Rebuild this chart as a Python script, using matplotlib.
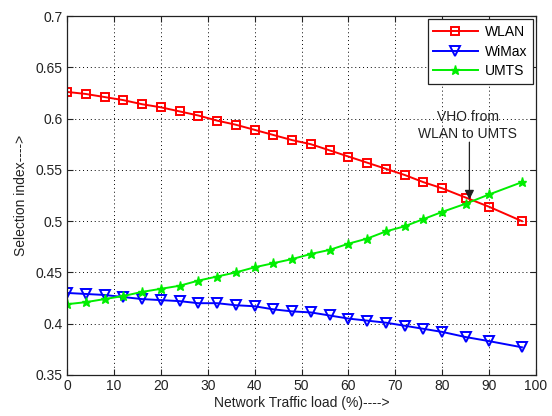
import matplotlib
matplotlib.use("Agg")
import matplotlib.pyplot as plt

plt.rcParams['font.family'] = ['Liberation Sans', 'DejaVu Sans']

# Network traffic load (%) at which each selection index was evaluated
load = [0, 4, 8, 12, 16, 20, 24, 28, 32, 36, 40, 44, 48, 52, 56, 60, 64, 68,
        72, 76, 80, 85, 90, 97]

wlan = [0.626, 0.624, 0.621, 0.618, 0.614, 0.611, 0.607, 0.603, 0.598, 0.594,
        0.589, 0.584, 0.579, 0.575, 0.569, 0.563, 0.557, 0.551, 0.545, 0.538,
        0.532, 0.523, 0.514, 0.500]
wimax = [0.430, 0.429, 0.428, 0.426, 0.424, 0.423, 0.422, 0.420, 0.420, 0.418,
         0.417, 0.414, 0.412, 0.411, 0.408, 0.405, 0.403, 0.401, 0.398, 0.395,
         0.392, 0.387, 0.383, 0.377]
umts = [0.419, 0.421, 0.424, 0.427, 0.431, 0.434, 0.437, 0.442, 0.446, 0.450,
        0.455, 0.459, 0.463, 0.468, 0.472, 0.478, 0.483, 0.490, 0.495, 0.502,
        0.509, 0.517, 0.526, 0.538]

x_ticks = [0, 10, 20, 30, 40, 50, 60, 70, 80, 90, 100]
y_ticks = [0.35, 0.4, 0.45, 0.5, 0.55, 0.6, 0.65, 0.7]
y_tick_labels = ['0.35', '0.4', '0.45', '0.5', '0.55', '0.6', '0.65', '0.7']

FS = 10
INK = '#222222'

fig = plt.figure(figsize=(5.52, 4.16), dpi=100)
ax = fig.add_axes([0.1214, 0.0986, 0.8496, 0.8629])

ax.plot(load, wlan, color='#ff0000', lw=1.4, marker='s', ms=6.2,
        mfc='none', mec='#ff0000', mew=1.4, label='WLAN')
ax.plot(load, wimax, color='#0000ff', lw=1.4, marker='v', ms=7,
        mfc='none', mec='#0000ff', mew=1.4, label='WiMax')
ax.plot(load, umts, color='#00ee00', lw=1.4, marker='*', ms=6.5,
        mfc='#00ee00', mec='#00ee00', mew=1.0, label='UMTS')

ax.set_xlim(0, 100)
ax.set_ylim(0.35, 0.7)
ax.set_xticks(x_ticks)
ax.set_yticks(y_ticks)
ax.set_yticklabels(y_tick_labels)

ax.grid(True, color='black', linestyle=(0, (1, 3)), linewidth=0.7)
ax.tick_params(direction='in', top=True, right=True, length=4,
               labelsize=FS, colors=INK, pad=3)
for s in ax.spines.values():
    s.set_color(INK)
    s.set_linewidth(0.9)

ax.set_xlabel('Network Traffic load (%)---->', fontsize=FS, color=INK,
              labelpad=2)
ax.set_ylabel('Selection index---->', fontsize=FS, color=INK, labelpad=6)

# Handover annotation at the WLAN/UMTS crossing
ax.text(85.4, 0.593, 'VHO from\nWLAN to UMTS', ha='center', va='center',
        fontsize=FS, color=INK, linespacing=1.25)
ax.annotate('', xy=(85.8, 0.521), xytext=(85.8, 0.577),
            arrowprops=dict(arrowstyle='-|>', color=INK, lw=0.9,
                            mutation_scale=14, shrinkA=0, shrinkB=0))

leg = ax.legend(loc='upper right', fontsize=FS, handlelength=3.2,
                labelspacing=0.4, borderaxespad=0.25, fancybox=False,
                framealpha=1, edgecolor=INK, borderpad=0.4,
                handletextpad=0.5)
leg.get_frame().set_linewidth(0.9)

fig.savefig('out.png', dpi=100)
